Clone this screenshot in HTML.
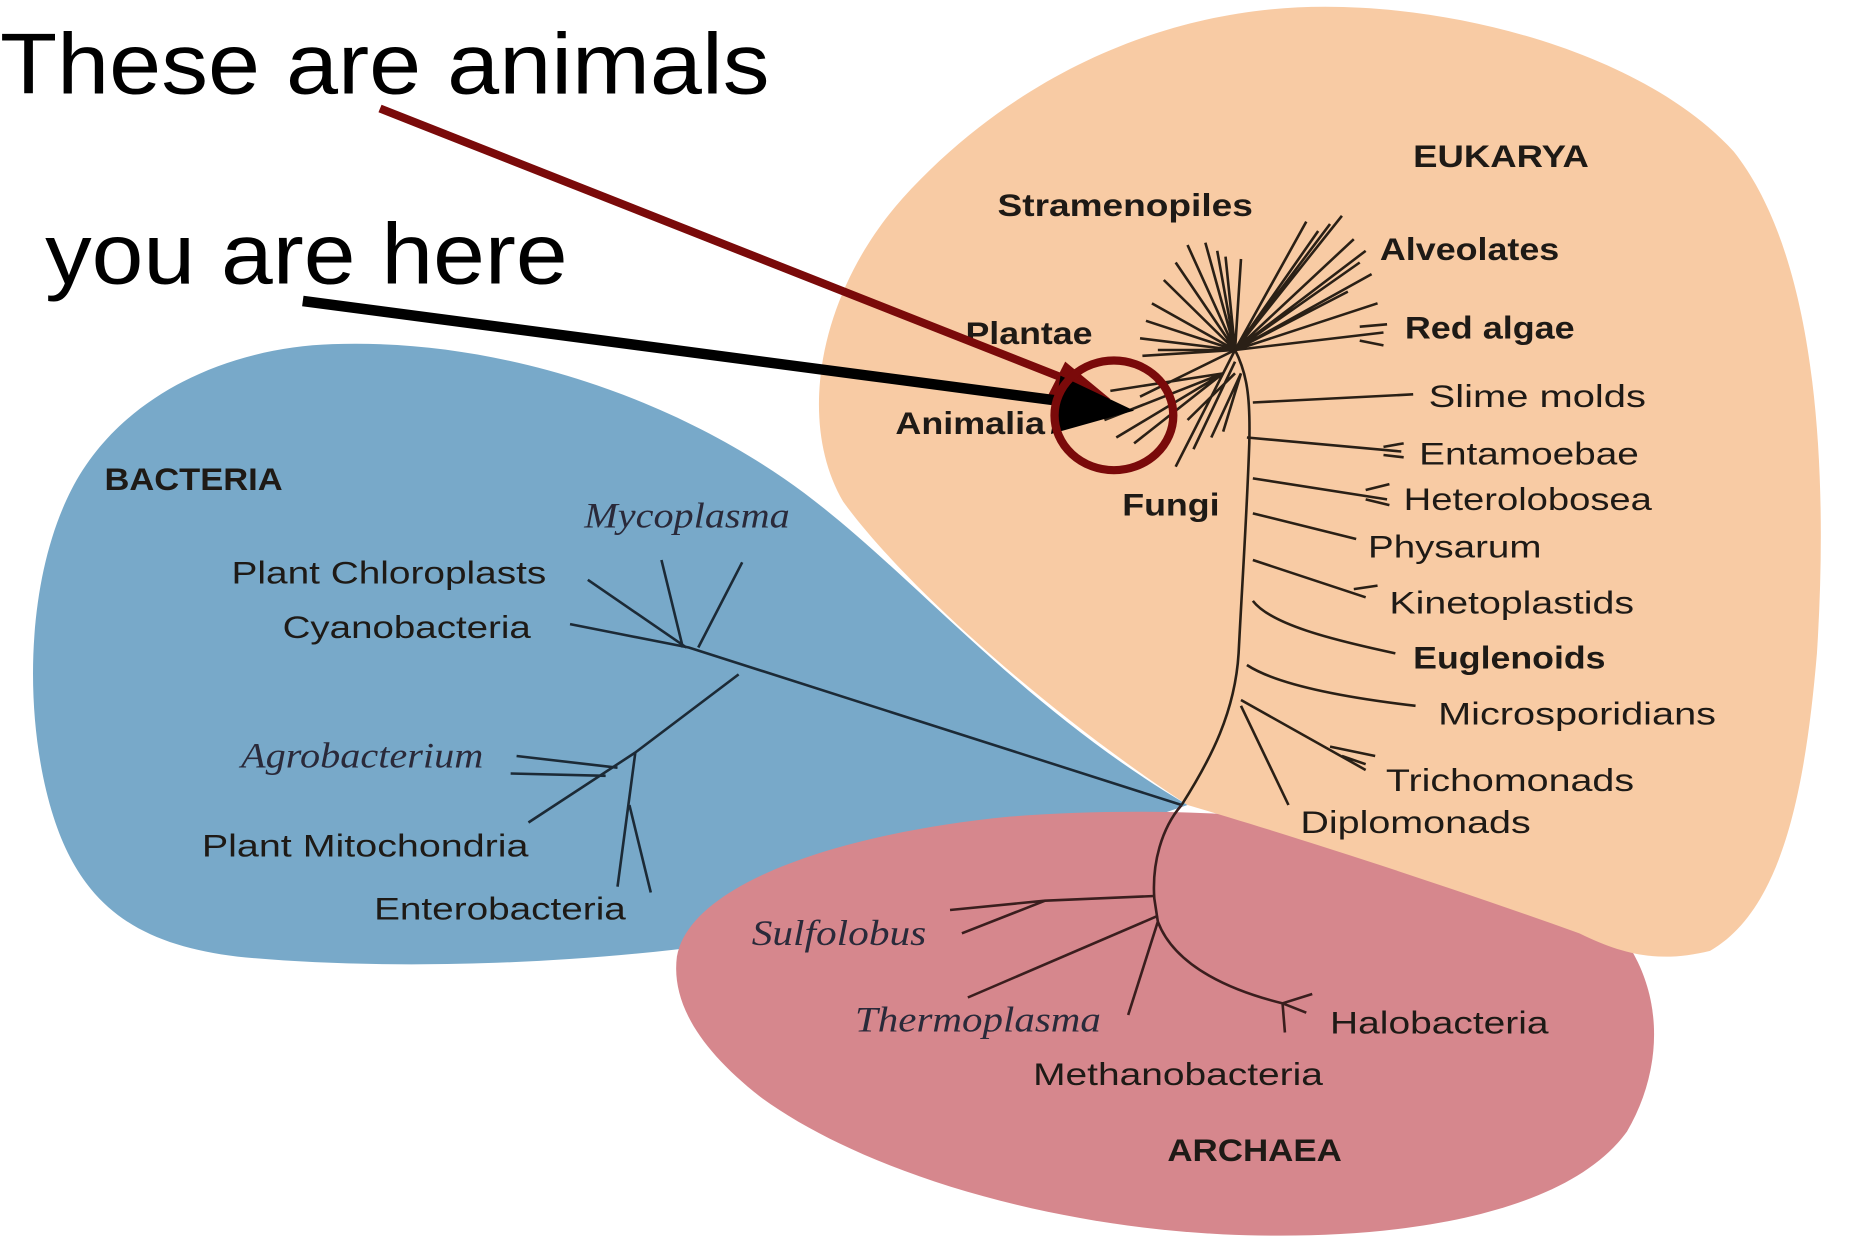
<!DOCTYPE html>
<html><head><meta charset="utf-8"><style>
html,body{margin:0;padding:0;background:#fff;width:1849px;height:1260px;overflow:hidden}
svg{display:block}
.b{font-family:"Liberation Sans",Arial,sans-serif;font-weight:bold;font-size:27px;fill:#1e1a16}
.n{font-family:"Liberation Sans",Arial,sans-serif;font-size:27px;fill:#1e1a16}
.i{font-family:"Liberation Serif",serif;font-style:italic;font-size:31px;fill:#2a2a3a}
.t{stroke:#2a2016;stroke-width:2.2;fill:none}
</style></head><body>
<svg width="1849" height="1260" viewBox="0 0 1557 1080" preserveAspectRatio="none">
<rect width="1557" height="1080" fill="#fff"/>
<path d="M280,295 C420,290 560,340 660,410 C760,480 850,600 1000,690 C880,730 760,790 600,810 C450,830 300,830 200,820 C120,810 70,780 45,700 C20,620 20,500 60,420 C100,340 190,298 280,295 Z" fill="#78a9c9"/>
<path d="M570,820 C580,760 700,715 850,700 C1000,688 1200,700 1320,760 C1400,810 1410,900 1370,970 C1320,1040 1180,1065 1030,1058 C870,1050 720,1000 640,940 C590,900 565,860 570,820 Z" fill="#d6878d"/>
<path d="M1070,8 C1200,-5 1380,40 1460,130 C1530,220 1540,400 1530,560 C1520,680 1500,780 1440,815 C1400,825 1370,820 1330,800 C1220,760 1100,720 1000,690 C880,610 760,500 710,430 C670,360 690,250 760,170 C840,80 950,20 1070,8 Z" fill="#f8cba4"/>
<path class="t" d="M995,690 C1020,650 1040,610 1043,560 C1046,500 1050,440 1052,380 C1053,340 1050,320 1040,300"/>
<g class="t">
<path d="M1055,345 L1190,338"/>
<path d="M1050,375 L1180,387 M1165,383 L1182,380 M1165,390 L1182,392"/>
<path d="M1055,410 L1168,428 M1150,420 L1170,415 M1150,428 L1170,433"/>
<path d="M1055,440 L1142,462"/>
<path d="M1055,480 L1150,512 M1140,505 L1160,502"/>
<path d="M1055,515 C1070,535 1120,548 1175,560"/>
<path d="M1050,570 C1080,590 1150,600 1192,605"/>
<path d="M1045,600 L1150,660 M1120,640 L1158,648 M1130,648 L1150,655"/>
<path d="M1045,605 L1085,690"/>
<path d="M1040,300 L1130,185 M1040,300 L1120,192 M1040,300 L1110,198 M1040,300 L1140,205 M1040,300 L1150,215 M1040,300 L1145,225 M1040,300 L1155,235 M1040,300 L1100,190 M1040,300 L1135,250 M1040,300 L1160,260"/>
<path d="M1040,300 L1165,285 M1145,280 L1168,278 M1145,292 L1165,296"/>
<path d="M1040,300 L1000,210 M1040,300 L1015,208 M1040,300 L1025,215 M1040,300 L1032,220 M1040,300 L980,240 M1040,300 L990,225 M1040,300 L970,260 M1040,300 L1045,222"/>
<path d="M1040,300 L960,290 M1040,300 L965,275 M1040,300 L975,300 M1040,300 L962,305"/>
<path d="M1040,300 L960,340 M1030,320 L935,335 M1030,320 L930,360 M1030,320 L940,375 M1030,320 L955,380"/>
<path d="M1040,300 L990,400 M1040,310 L1005,385 M1045,320 L1020,375 M1045,320 L1030,370 M1040,320 L1000,360"/>
</g>
<g class="t" style="stroke:#3a1e1e">
<path d="M995,690 C978,710 970,740 972,770 L975,790"/>
<path d="M972,768 L880,772 L800,780 M880,772 L810,800"/>
<path d="M975,785 L815,855"/>
<path d="M975,790 L950,870"/>
<path d="M975,790 C990,830 1040,850 1080,860 L1105,852 M1080,860 L1100,868 M1080,860 L1082,885"/>
</g>
<g class="t" style="stroke:#1c2a36">
<path d="M995,690 L580,555 L480,535"/>
<path d="M495,497 L578,555"/>
<path d="M557,480 L575,555 M625,482 L588,555"/>
<path d="M622,578 L535,645 L445,705"/>
<path d="M435,648 L520,658 M430,663 L510,665"/>
<path d="M535,645 L520,760 M530,690 L548,765"/>
</g>
<g lengthAdjust="spacingAndGlyphs">
<text class="b" x="1190" y="143" textLength="148" lengthAdjust="spacingAndGlyphs">EUKARYA</text>
<text class="b" x="840" y="185" textLength="215" lengthAdjust="spacingAndGlyphs">Stramenopiles</text>
<text class="b" x="1162" y="223" textLength="151" lengthAdjust="spacingAndGlyphs">Alveolates</text>
<text class="b" x="1183" y="290" textLength="143" lengthAdjust="spacingAndGlyphs">Red algae</text>
<text class="b" x="813" y="295" textLength="107" lengthAdjust="spacingAndGlyphs">Plantae</text>
<text class="b" x="754" y="372" textLength="126" lengthAdjust="spacingAndGlyphs">Animalia</text>
<text class="b" x="945" y="442" textLength="82" lengthAdjust="spacingAndGlyphs">Fungi</text>
<text class="n" x="1203" y="349" textLength="183" lengthAdjust="spacingAndGlyphs">Slime molds</text>
<text class="n" x="1195" y="398" textLength="185" lengthAdjust="spacingAndGlyphs">Entamoebae</text>
<text class="n" x="1182" y="437" textLength="209" lengthAdjust="spacingAndGlyphs">Heterolobosea</text>
<text class="n" x="1152" y="478" textLength="146" lengthAdjust="spacingAndGlyphs">Physarum</text>
<text class="n" x="1170" y="526" textLength="206" lengthAdjust="spacingAndGlyphs">Kinetoplastids</text>
<text class="b" x="1190" y="573" textLength="162" lengthAdjust="spacingAndGlyphs">Euglenoids</text>
<text class="n" x="1211" y="621" textLength="234" lengthAdjust="spacingAndGlyphs">Microsporidians</text>
<text class="n" x="1167" y="678" textLength="209" lengthAdjust="spacingAndGlyphs">Trichomonads</text>
<text class="n" x="1095" y="714" textLength="194" lengthAdjust="spacingAndGlyphs">Diplomonads</text>
<text class="b" x="88" y="420" textLength="150" lengthAdjust="spacingAndGlyphs">BACTERIA</text>
<text class="i" x="492" y="452" textLength="173" lengthAdjust="spacingAndGlyphs">Mycoplasma</text>
<text class="n" x="195" y="500" textLength="265" lengthAdjust="spacingAndGlyphs">Plant Chloroplasts</text>
<text class="n" x="238" y="547" textLength="209" lengthAdjust="spacingAndGlyphs">Cyanobacteria</text>
<text class="i" x="203" y="658" textLength="204" lengthAdjust="spacingAndGlyphs">Agrobacterium</text>
<text class="n" x="170" y="734" textLength="275" lengthAdjust="spacingAndGlyphs">Plant Mitochondria</text>
<text class="n" x="315" y="788" textLength="212" lengthAdjust="spacingAndGlyphs">Enterobacteria</text>
<text class="i" x="633" y="810" textLength="147" lengthAdjust="spacingAndGlyphs">Sulfolobus</text>
<text class="i" x="720" y="884" textLength="207" lengthAdjust="spacingAndGlyphs">Thermoplasma</text>
<text class="n" x="1120" y="886" textLength="184" lengthAdjust="spacingAndGlyphs">Halobacteria</text>
<text class="n" x="870" y="930" textLength="244" lengthAdjust="spacingAndGlyphs">Methanobacteria</text>
<text class="b" x="983" y="995" textLength="147" lengthAdjust="spacingAndGlyphs">ARCHAEA</text>
</g>
<text x="0" y="80" textLength="648" lengthAdjust="spacingAndGlyphs" style="font-family:'Liberation Sans',Arial,sans-serif;font-size:74px;fill:#000">These are animals</text>
<text x="38" y="243" textLength="440" lengthAdjust="spacingAndGlyphs" style="font-family:'Liberation Sans',Arial,sans-serif;font-size:74px;fill:#000">you are here</text>
<line x1="320" y1="93" x2="905" y2="328" stroke="#7a0a0a" stroke-width="7"/>
<polygon points="935,342 882,340 897,310" fill="#7a0a0a"/>
<line x1="255" y1="258" x2="895" y2="344" stroke="#000" stroke-width="9"/>
<polygon points="955,352 885,372 893,322" fill="#000"/>
<ellipse cx="938" cy="356" rx="50" ry="47" fill="none" stroke="#7a0a0a" stroke-width="7"/>
</svg>
</body></html>
